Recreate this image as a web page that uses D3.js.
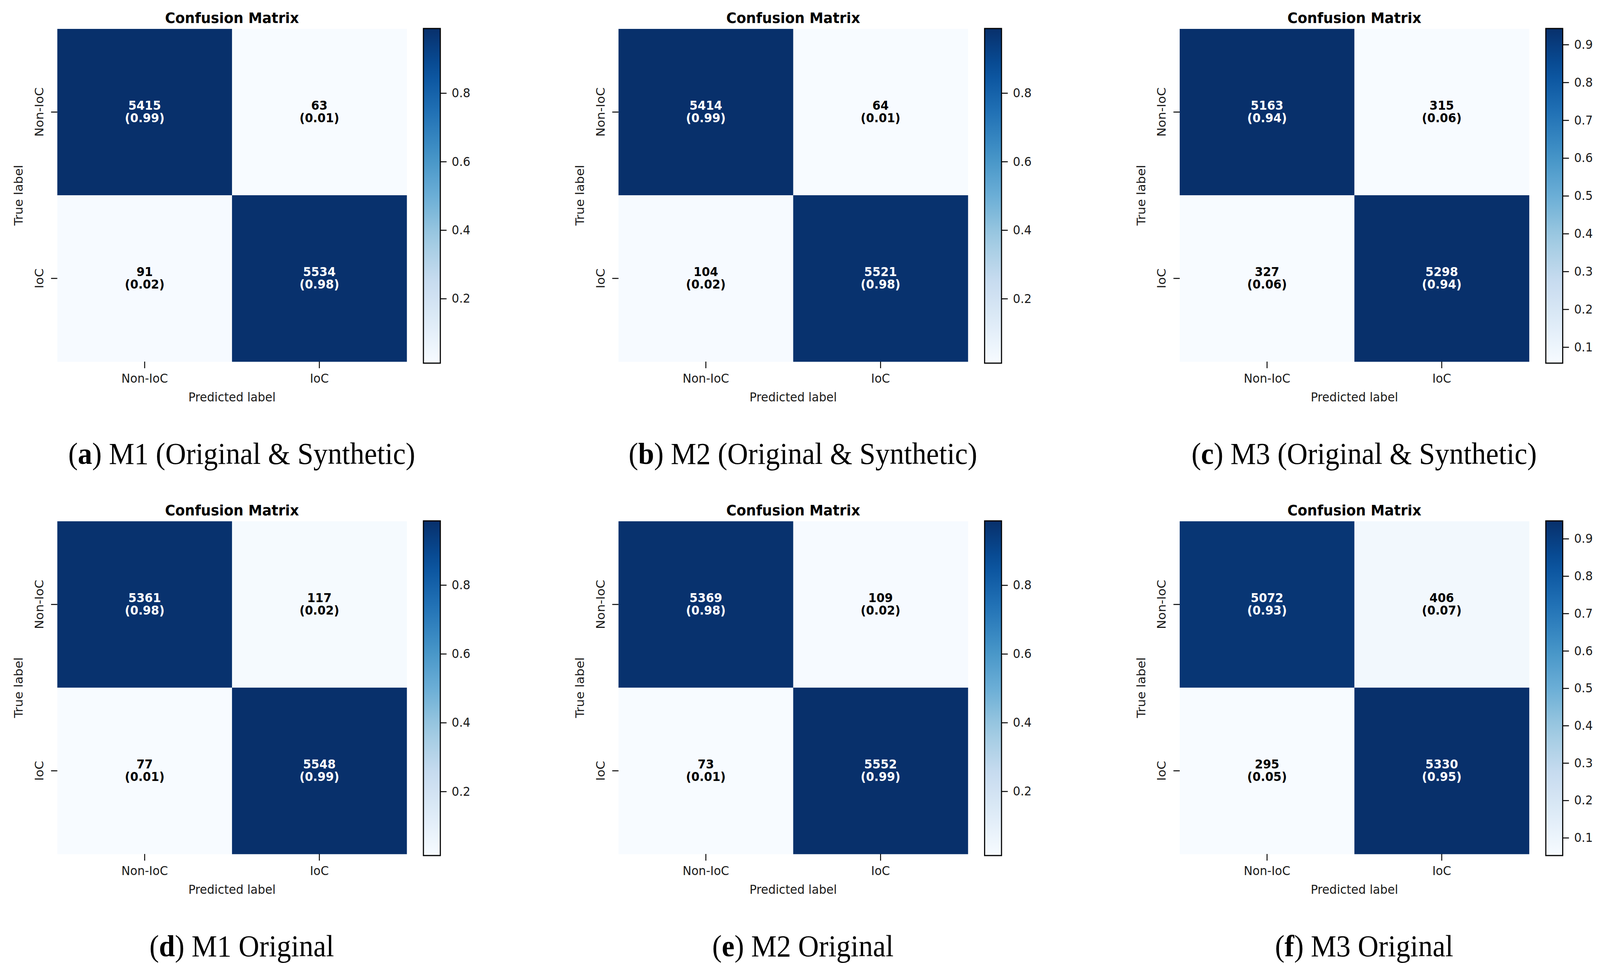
<!DOCTYPE html>
<html>
<head>
<meta charset="utf-8">
<script src="https://cdn.jsdelivr.net/npm/d3@7"></script>
<style>
  html, body { margin: 0; padding: 0; background: #fff; overflow: hidden; }
  svg { display: block; }
</style>
</head>
<body>
<div id="chart"></div>
<script>
// class names used on both axes
const classLabels = ["Non-IoC", "IoC"];

// raw counts, rows = true label, cols = predicted label
const countsA = [[5415, 63], [91, 5534]];
const countsB = [[5414, 64], [104, 5521]];
const countsC = [[5163, 315], [327, 5298]];
const countsD = [[5361, 117], [77, 5548]];
const countsE = [[5369, 109], [73, 5552]];
const countsF = [[5072, 406], [295, 5330]];

const panelLetters = ["a", "b", "c", "d", "e", "f"];
const panelCaptions = [
    "M1 (Original & Synthetic)",
    "M2 (Original & Synthetic)",
    "M3 (Original & Synthetic)",
    "M1 Original",
    "M2 Original",
    "M3 Original"
];

// colorbar tick labels
const ticksFine = [0.1, 0.2, 0.3, 0.4, 0.5, 0.6, 0.7, 0.8, 0.9];
const ticksCoarse = [0.2, 0.4, 0.6, 0.8];

const panels = [
    {counts: countsA, ticks: ticksCoarse},
    {counts: countsB, ticks: ticksCoarse},
    {counts: countsC, ticks: ticksFine},
    {counts: countsD, ticks: ticksCoarse},
    {counts: countsE, ticks: ticksCoarse},
    {counts: countsF, ticks: ticksFine}
];

// matplotlib "Blues" (linear segments between the 9 brewer colours)
const bluesStops = ["#f7fbff", "#deebf7", "#c6dbef", "#9ecae1", "#6baed6",
                    "#4292c6", "#2171b5", "#08519c", "#08306b"];
const blues = d3.scaleLinear()
    .domain(d3.range(bluesStops.length).map(i => i / (bluesStops.length - 1)))
    .range(bluesStops)
    .interpolate(d3.interpolateRgb)
    .clamp(true);

const W = 4355, H = 2479;
const colStep = 1527.5, rowStep = 1261;
const sansFont = "'DejaVu Sans', sans-serif";

// stretch the drawing over the whole viewport, whatever its real size
const svg = d3.select("#chart").append("svg")
    .attr("viewBox", `0 0 ${W} ${H}`)
    .attr("preserveAspectRatio", "none")
    .style("width", "100vw")
    .style("height", "100vh");
svg.append("rect").attr("width", W).attr("height", H).attr("fill", "#fff");
const defs = svg.append("defs");

function drawPanel(g, panel, idx) {
    const x = d3.scaleBand().domain(classLabels).range([156, 1107]);
    const y = d3.scaleBand().domain(classLabels).range([74, 926]);

    // row-normalised values
    const cells = [];
    panel.counts.forEach((row, i) => {
        const total = d3.sum(row);
        row.forEach((c, j) => {
            cells.push({t: classLabels[i], p: classLabels[j], count: c, value: c / total});
        });
    });
    const vmin = d3.min(cells, d => d.value);
    const vmax = d3.max(cells, d => d.value);
    const norm = d3.scaleLinear().domain([vmin, vmax]).range([0, 1]);
    const thresh = (vmin + vmax) / 2;

    g.selectAll("rect.cell")
        .data(cells)
        .enter().append("rect")
        .attr("class", "cell")
        .attr("x", d => x(d.p))
        .attr("y", d => y(d.t))
        .attr("width", x.bandwidth() + 0.5)
        .attr("height", y.bandwidth() + 0.5)
        .attr("fill", d => blues(norm(d.value)));

    const labels = g.selectAll("text.cell")
        .data(cells)
        .enter().append("text")
        .attr("class", "cell")
        .attr("x", d => x(d.p) + x.bandwidth() / 2)
        .attr("y", d => y(d.t) + y.bandwidth() / 2)
        .attr("text-anchor", "middle")
        .attr("font-family", sansFont)
        .attr("font-weight", "bold")
        .attr("font-size", 32)
        .attr("fill", d => d.value > thresh ? "#ffffff" : "#000000");
    labels.append("tspan")
        .attr("x", d => x(d.p) + x.bandwidth() / 2)
        .attr("dy", -6)
        .text(d => d.count);
    labels.append("tspan")
        .attr("x", d => x(d.p) + x.bandwidth() / 2)
        .attr("dy", 32)
        .text(d => `(${d.value.toFixed(2)})`);

    // title
    g.append("text")
        .attr("x", 631.5)
        .attr("y", 59)
        .attr("text-anchor", "middle")
        .attr("font-family", sansFont)
        .attr("font-weight", "bold")
        .attr("font-size", 38)
        .attr("fill", "#000")
        .text("Confusion Matrix");

    // x axis
    const xAxis = g.append("g")
        .attr("transform", "translate(0,926)")
        .call(d3.axisBottom(x).tickSize(17).tickPadding(14));
    xAxis.select(".domain").remove();
    xAxis.selectAll(".tick line").attr("stroke", "#000").attr("stroke-width", 2.5);
    xAxis.selectAll(".tick text")
        .attr("font-family", sansFont)
        .attr("font-size", 32)
        .attr("fill", "#1a1a1a");

    // y axis, labels turned vertical
    const yAxis = g.append("g")
        .attr("transform", "translate(156,0)")
        .call(d3.axisLeft(y).tickSize(17));
    yAxis.select(".domain").remove();
    yAxis.selectAll(".tick line").attr("stroke", "#000").attr("stroke-width", 2.5);
    yAxis.selectAll(".tick text")
        .attr("transform", "rotate(-90)")
        .attr("x", 0)
        .attr("y", -38)
        .attr("dy", 0)
        .attr("text-anchor", "middle")
        .attr("font-family", sansFont)
        .attr("font-size", 32)
        .attr("fill", "#1a1a1a");

    g.append("text")
        .attr("x", 631.5)
        .attr("y", 1028)
        .attr("text-anchor", "middle")
        .attr("font-family", sansFont)
        .attr("font-size", 32)
        .attr("fill", "#1a1a1a")
        .text("Predicted label");

    g.append("text")
        .attr("transform", "translate(62,500) rotate(-90)")
        .attr("text-anchor", "middle")
        .attr("font-family", sansFont)
        .attr("font-size", 32)
        .attr("fill", "#1a1a1a")
        .text("True label");

    // colorbar
    const cbTop = 73, cbBottom = 930, cbLeft = 1152.5, cbWidth = 46;
    const gradId = "grad" + idx;
    const grad = defs.append("linearGradient")
        .attr("id", gradId)
        .attr("x1", 0).attr("y1", 1).attr("x2", 0).attr("y2", 0);
    d3.range(0, 1.0001, 0.05).forEach(t => {
        grad.append("stop").attr("offset", t).attr("stop-color", blues(t));
    });
    g.append("rect")
        .attr("x", cbLeft)
        .attr("y", cbTop)
        .attr("width", cbWidth)
        .attr("height", cbBottom - cbTop)
        .attr("fill", `url(#${gradId})`)
        .attr("stroke", "#000")
        .attr("stroke-width", 3);

    const cScale = d3.scaleLinear().domain([vmin, vmax]).range([cbBottom, cbTop]);
    const cAxis = g.append("g")
        .attr("transform", `translate(${cbLeft + cbWidth},0)`)
        .call(d3.axisRight(cScale).tickValues(panel.ticks).tickFormat(d3.format(".1f"))
            .tickSize(17).tickPadding(14));
    cAxis.select(".domain").remove();
    cAxis.selectAll(".tick line").attr("stroke", "#000").attr("stroke-width", 2.5);
    cAxis.selectAll(".tick text")
        .attr("font-family", sansFont)
        .attr("font-size", 32)
        .attr("fill", "#1a1a1a");

    // sub-figure caption
    const cap = g.append("text")
        .attr("x", 658)
        .attr("y", 1188)
        .attr("text-anchor", "middle")
        .attr("font-family", "'Liberation Serif', 'Times New Roman', serif")
        .attr("font-size", 78)
        .attr("fill", "#000");
    cap.append("tspan").text("(");
    cap.append("tspan").attr("font-weight", "bold").text(panelLetters[idx]);
    cap.append("tspan").text(") " + panelCaptions[idx]);
}

panels.forEach((panel, i) => {
    const col = i % 3, row = Math.floor(i / 3);
    const g = svg.append("g")
        .attr("transform", `translate(${col * colStep},${row * rowStep})`);
    drawPanel(g, panel, i);
});
</script>
</body>
</html>
